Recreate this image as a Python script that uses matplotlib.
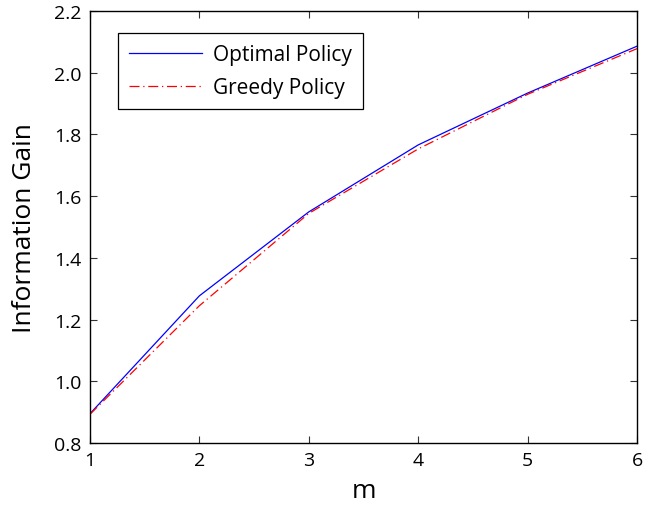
import matplotlib
matplotlib.use("Agg")
import matplotlib.pyplot as plt

m = [1, 2, 3, 4, 5, 6]
optimal = [0.895, 1.277, 1.549, 1.766, 1.934, 2.086]
greedy = [0.893, 1.245, 1.544, 1.753, 1.930, 2.078]
xticks = [1, 2, 3, 4, 5, 6]
yticks = [0.8, 1.0, 1.2, 1.4, 1.6, 1.8, 2.0, 2.2]
ytick_labels = ["0.8", "1.0", "1.2", "1.4", "1.6", "1.8", "2.0", "2.2"]

plt.rcParams['font.family'] = ['Open Sans', 'DejaVu Sans']

fig = plt.figure(figsize=(6.45, 5.06), dpi=100)
ax = fig.add_axes([90/645, 1-444/506, 547/645, 432/506])

ax.plot(m, optimal, color=(0, 0, 1), lw=0.9, label="Optimal Policy")
ax.plot(m, greedy, color=(1, 0, 0), lw=0.9, ls=(0, (8, 3, 1, 3)), label="Greedy Policy")

ax.set_xlim(1, 6)
ax.set_ylim(0.8, 2.2)
ax.set_xticks(xticks)
ax.set_yticks(yticks)
ax.set_yticklabels(ytick_labels)
ax.tick_params(direction='in', top=True, right=True, labelsize=14, length=5,
               width=0.8, pad=6, color='#333333')
for s in ax.spines.values():
    s.set_linewidth(1.0)

ax.set_xlabel("m", fontsize=19, labelpad=6)
ax.set_ylabel("Information Gain", fontsize=19, labelpad=12)

leg = ax.legend(loc='upper left', bbox_to_anchor=(0.051, 0.949), fontsize=15,
                frameon=True, fancybox=False, edgecolor='black', framealpha=1,
                handlelength=3.5, borderpad=0.55, labelspacing=0.55, handletextpad=0.5,
                borderaxespad=0)
leg.get_frame().set_linewidth(0.9)

fig.savefig("out.png", dpi=100)
